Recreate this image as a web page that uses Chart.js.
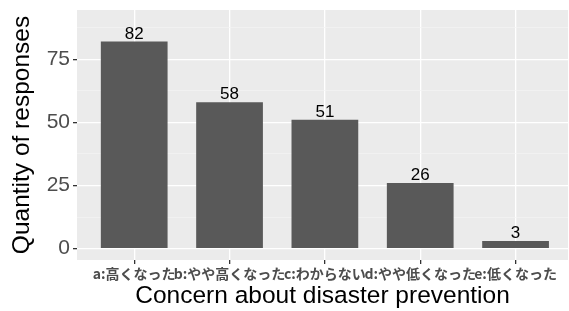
<!DOCTYPE html>
<html>
<head>
<meta charset="utf-8">
<script src="https://cdn.jsdelivr.net/npm/chart.js@4/dist/chart.umd.min.js"></script>
<style>
  html,body{margin:0;padding:0;background:#fff;overflow:hidden;}
</style>
</head>
<body>
<canvas id="c" width="569" height="311"></canvas>
<script>
// 回答データ
const categories = ["a:高くなった","b:やや高くなった","c:わからない","d:やや低くなった","e:低くなった"];
const counts = [82, 58, 51, 26, 3];
const yMajor = [0, 25, 50, 75];
const yMinor = [12.5, 37.5, 62.5, 87.5];

const LATIN = "'Liberation Sans', Arial, sans-serif";
const CJK = "'Noto Sans CJK JP', 'Liberation Sans', sans-serif";

const panelBg = {
  id: "panelBg",
  beforeDraw(chart){
    const {ctx, chartArea:a} = chart;
    ctx.save(); ctx.fillStyle = "#EBEBEB";
    ctx.fillRect(a.left, a.top, a.right - a.left, a.bottom - a.top);
    ctx.restore();
  }
};

const barLabels = {
  id: "barLabels",
  afterDatasetsDraw(chart){
    const {ctx} = chart;
    const meta = chart.getDatasetMeta(0);
    ctx.save();
    ctx.fillStyle = "#000"; ctx.font = "17px " + LATIN;
    ctx.textAlign = "center"; ctx.textBaseline = "alphabetic";
    meta.data.forEach((el, i) => {
      const {x, y} = el.getProps(["x","y"], true);
      ctx.fillText(String(counts[i]), x, y - 3);
    });
    ctx.restore();
  }
};

new Chart(document.getElementById("c"), {
  type: "bar",
  data: {
    datasets: [{
      data: counts.map((v, i) => ({x: i, y: v})),
      backgroundColor: "#595959",
      borderWidth: 0,
      barPercentage: 0.7,
      categoryPercentage: 1
    }]
  },
  options: {
    responsive: false,
    animation: false,
    devicePixelRatio: 1,
    layout: {padding: {top: 10, right: 1, left: 0, bottom: 0}},
    plugins: {legend: {display: false}, tooltip: {enabled: false}},
    scales: {
      x: {
        type: "linear",
        offset: false,
        min: -0.6, max: 4.55,
        afterBuildTicks(s){ s.ticks = categories.map((_, i) => ({value: i})); },
        afterFit(s){ s.height = 51; s.paddingLeft = 0; s.paddingRight = 0; },
        ticks: {
          autoSkip: false, maxRotation: 0, minRotation: 0, padding: 1,
          color: "#4D4D4D",
          font: {family: CJK, size: 14, weight: "bold"},
          callback: v => categories[v]
        },
        grid: {offset: false, color: "#FFFFFF", lineWidth: 1.3, tickColor: "#333333", tickLength: 4, drawOnChartArea: true},
        border: {display: false},
        title: {
          display: true, text: "Concern about disaster prevention",
          color: "#000", font: {family: LATIN, size: 24.5}, padding: {top: 2, bottom: 0}
        }
      },
      y: {
        min: -4.5, max: 94.5,
        afterBuildTicks(s){ s.ticks = yMajor.concat(yMinor).sort((a,b)=>a-b).map(v => ({value: v})); },
        afterFit(s){ s.width = 77; s.paddingTop = 0; s.paddingBottom = 0; },
        ticks: {
          padding: 3, color: "#4D4D4D",
          font: {family: LATIN, size: 21},
          callback: v => yMajor.includes(v) ? String(v) : ""
        },
        grid: {
          color: c => yMajor.includes(c.tick.value) ? "#FFFFFF" : "#F4F4F4",
          lineWidth: c => yMajor.includes(c.tick.value) ? 1.3 : 0.7,
          tickColor: c => yMajor.includes(c.tick.value) ? "#333333" : "rgba(0,0,0,0)",
          tickLength: 4
        },
        border: {display: false},
        title: {
          display: true, text: "Quantity of responses",
          color: "#000", font: {family: LATIN, size: 24.5}, padding: {top: 8, bottom: 0}
        }
      }
    }
  },
  plugins: [panelBg, barLabels]
});
</script>
</body>
</html>
